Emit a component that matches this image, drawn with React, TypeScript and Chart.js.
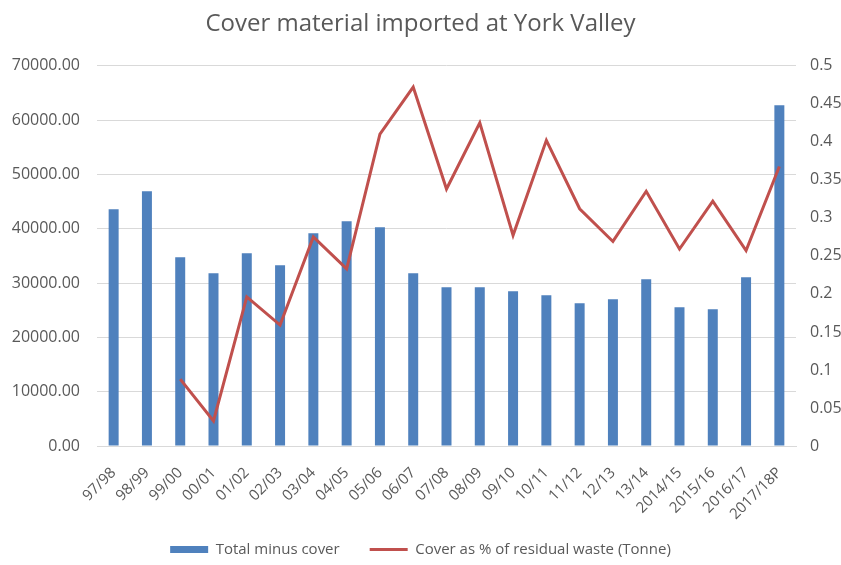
import React, { useEffect, useRef } from "react";
import { Chart, registerables } from "chart.js";

Chart.register(...registerables);

const categories = [
  "97/98", "98/99", "99/00", "00/01", "01/02", "02/03", "03/04", "04/05",
  "05/06", "06/07", "07/08", "08/09", "09/10", "10/11", "11/12", "12/13",
  "13/14", "2014/15", "2015/16", "2016/17", "2017/18P",
];

const totalMinusCover = [
  43600, 46900, 34750, 31800, 35500, 33280, 39180, 41390, 40280, 31800,
  29230, 29230, 28500, 27760, 26280, 27020, 30700, 25550, 25180, 31070, 62750,
];

const coverPct: (number | null)[] = [
  null, null, 0.088, 0.033, 0.196, 0.159, 0.275, 0.233, 0.41, 0.472,
  0.338, 0.425, 0.277, 0.402, 0.312, 0.269, 0.335, 0.259, 0.322, 0.257, 0.3675,
];

const leftTicksMax = 70000;
const leftStep = 10000;
const rightTicksMax = 0.5;
const rightStep = 0.05;

const TEXT = "#595959";
const FONT = "'Open Sans', sans-serif";

export default function App() {
  const ref = useRef<HTMLCanvasElement | null>(null);

  useEffect(() => {
    if (!ref.current) return;
    const chart = new Chart(ref.current, {
      data: {
        labels: categories,
        datasets: [
          {
            type: "bar",
            label: "Total minus cover",
            data: totalMinusCover,
            backgroundColor: "#4F81BD",
            borderWidth: 0,
            barPercentage: 0.3,
            categoryPercentage: 1,
            yAxisID: "y",
            order: 1,
            pointStyle: "rect",
          } as any,
          {
            type: "line",
            label: "Cover as % of residual waste (Tonne)",
            data: coverPct,
            borderColor: "#C0504D",
            backgroundColor: "#C0504D",
            borderWidth: 3,
            pointRadius: 0,
            tension: 0,
            yAxisID: "y1",
            order: 0,
            pointStyle: "line",
          } as any,
        ],
      },
      options: {
        responsive: false,
        animation: false,
        devicePixelRatio: 1,
        layout: { padding: { left: 0, right: 0, top: 0, bottom: -2 } },
        plugins: {
          title: {
            display: true,
            text: "Cover material imported at York Valley",
            color: TEXT,
            font: { family: FONT, size: 24, weight: "normal" },
            padding: { top: 10, bottom: 27 },
          },
          legend: {
            position: "bottom",
            labels: {
              usePointStyle: true,
              pointStyleWidth: 38,
              boxHeight: 7,
              color: TEXT,
              font: { family: FONT, size: 15 },
              padding: 30,
              sort: (a: any, b: any) => a.datasetIndex - b.datasetIndex,
            },
          },
          tooltip: { enabled: false },
        },
        scales: {
          x: {
            grid: { display: false },
            border: { display: true, color: "#D9D9D9" },
            ticks: {
              color: TEXT,
              font: { family: FONT, size: 15 },
              maxRotation: 45,
              minRotation: 45,
              autoSkip: false,
              padding: 10,
            },
            afterFit: (s: any) => {
              s.height = 66;
              s._computeLabelArea = () => undefined;
            },
          },
          y: {
            position: "left",
            min: 0,
            max: leftTicksMax,
            grid: { color: "#D9D9D9", drawTicks: false },
            border: { display: false },
            ticks: {
              stepSize: leftStep,
              color: TEXT,
              font: { family: FONT, size: 16 },
              padding: 17,
              callback: (v: any) => Number(v).toFixed(2),
            },
            afterFit: (s: any) => {
              s.width = 97;
            },
          },
          y1: {
            position: "right",
            min: 0,
            max: rightTicksMax,
            grid: { display: false, drawTicks: false },
            border: { display: false },
            ticks: {
              stepSize: rightStep,
              color: TEXT,
              font: { family: FONT, size: 16 },
              padding: 14,
              callback: (v: any) => String(Math.round(Number(v) * 100) / 100),
            },
            afterFit: (s: any) => {
              s.width = 45;
            },
          },
        },
      } as any,
    });
    return () => chart.destroy();
  }, []);

  return (
    <div style={{ position: "fixed", left: 0, top: 0, width: 841, height: 565, background: "#fff" }}>
      <canvas ref={ref} width={841} height={565} />
    </div>
  );
}
